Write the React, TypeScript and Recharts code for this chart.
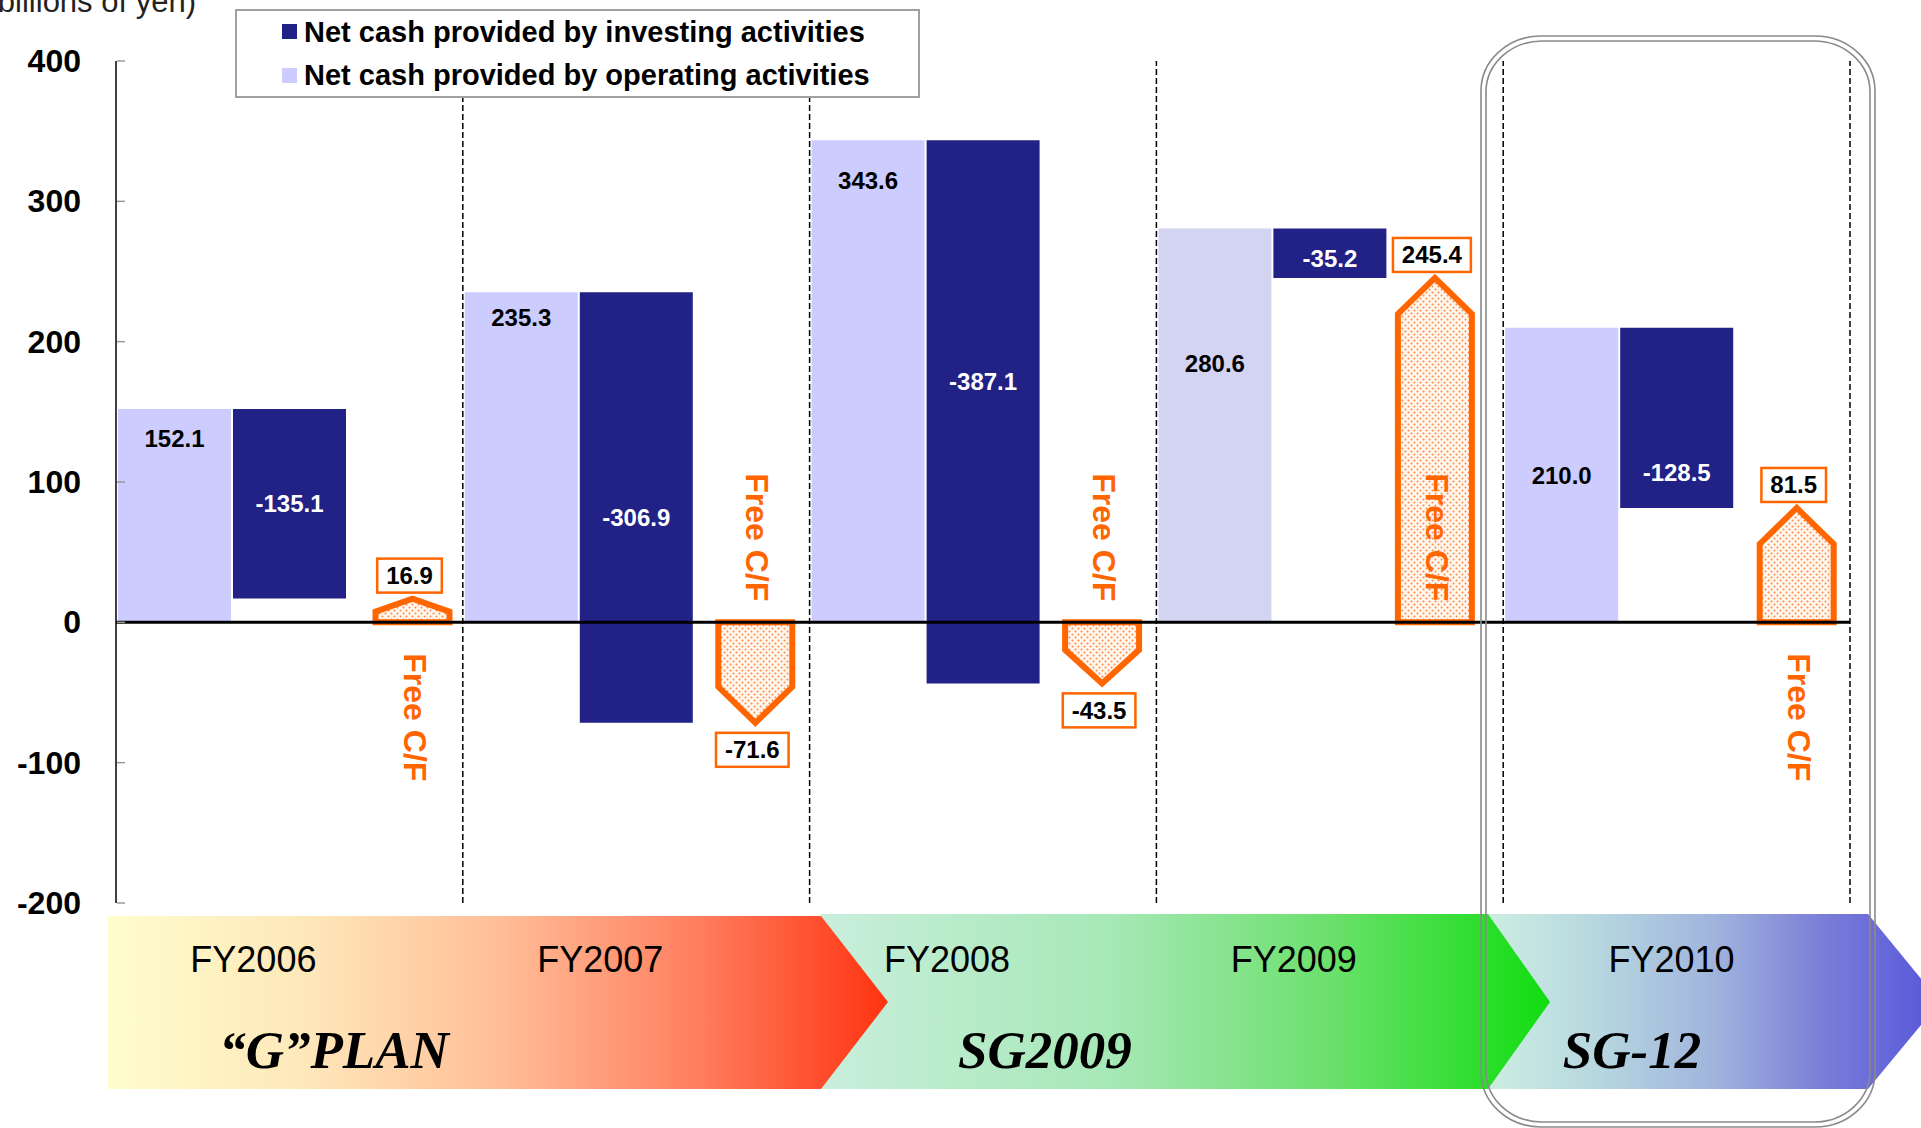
import React from 'react';
import { BarChart, Bar, XAxis, YAxis, Cell, LabelList, Legend, ReferenceLine } from 'recharts';

const years = ['FY2006', 'FY2007', 'FY2008', 'FY2009', 'FY2010'];
const operating = [152.1, 235.3, 343.6, 280.6, 210.0];
const investing = [-135.1, -306.9, -387.1, -35.2, -128.5];
const freeCashFlow = [16.9, -71.6, -43.5, 245.4, 81.5];
const yTicks = [-200, -100, 0, 100, 200, 300, 400];
const planNames = ['“G”PLAN', 'SG2009', 'SG-12'];

// operating bar rises from zero, investing bar floats down from the operating total
const rows = years.map((fy, i) => ({
  fy,
  op: [0, operating[i]],
  inv: [operating[i] + investing[i], operating[i]],
  fcf: [0, freeCashFlow[i]],
  opValue: operating[i],
  invValue: investing[i],
  fcfValue: freeCashFlow[i],
}));

const W = 1921;
const H = 1128;
const SANS = '"Liberation Sans", Arial, sans-serif';
const SERIF = '"Liberation Serif", "Times New Roman", serif';
const OP = '#CCCCFF';
const OP_ALT = '#D3D3F2';
const INV = '#212186';
const ORANGE = '#FF6600';

// label / arrow placement tweaks (px)
const opLabelDrop = [30, 25, 40, 135, 148];
const invLabelShift = [0, 10, -30, 5, 55];
const yearLabelShift = [-36, -36, -36, -36, -5];
const arrowShift = [8, 4, 4, -10, 5];

const rectOf = (p: any) => {
  const vb = p.viewBox && typeof p.viewBox.x === 'number' ? p.viewBox : p;
  const top = Math.min(vb.y, vb.y + vb.height);
  const bottom = Math.max(vb.y, vb.y + vb.height);
  return { x: vb.x, w: vb.width, top, bottom };
};

const OpLabel = (p: any) => {
  const r = rectOf(p);
  return (
    <text x={r.x + r.w / 2} y={r.top + opLabelDrop[p.index]} textAnchor="middle" dominantBaseline="central"
      fontFamily={SANS} fontWeight="bold" fontSize={24} fill="#000">
      {Number(p.value).toFixed(1)}
    </text>
  );
};

const InvLabel = (p: any) => {
  const r = rectOf(p);
  return (
    <text x={r.x + r.w / 2} y={(r.top + r.bottom) / 2 + invLabelShift[p.index]} textAnchor="middle"
      dominantBaseline="central" fontFamily={SANS} fontWeight="bold" fontSize={24} fill="#fff">
      {Number(p.value).toFixed(1)}
    </text>
  );
};

const arrowGeom = (x: number, w: number, top: number, bottom: number, v: number, i: number) => {
  const cx = x + w / 2 + (arrowShift[i] ?? 4);
  const base = v >= 0 ? bottom : top;
  const apex = v >= 0 ? top : bottom;
  return { cx, base, apex, len: Math.abs(apex - base) };
};

const FcfArrow = (p: any) => {
  const v = p.payload?.fcfValue ?? freeCashFlow[p.index];
  const r = rectOf(p);
  const { cx, base, apex, len } = arrowGeom(r.x, r.w, r.top, r.bottom, v, p.index);
  const half = 37;
  const dir = v >= 0 ? -1 : 1;
  const tip = Math.min(36, len * 0.55);
  const sh = apex - dir * tip;
  const d = `M${cx - half},${base} L${cx - half},${sh} L${cx},${apex} L${cx + half},${sh} L${cx + half},${base} Z`;
  return <path d={d} fill="url(#fcfDots)" stroke={ORANGE} strokeWidth={6} strokeLinejoin="miter" />;
};

const textWidth = (s: string) =>
  s.split('').reduce((a, c) => a + (c === '.' ? 6.7 : c === '-' ? 8 : 13.3), 0);

const FcfLabel = (p: any) => {
  const v = Number(p.value);
  const r = rectOf(p);
  const { cx, base, apex, len } = arrowGeom(r.x, r.w, r.top, r.bottom, v, p.index);
  const txt = v.toFixed(1);
  const bw = textWidth(txt) + 18;
  const bh = 34;
  const by = v >= 0 ? apex - 6 - bh : apex + 10;
  const capY = v < 0 || len > 200 ? base - 85 : base + 95;
  return (
    <g>
      <rect x={cx - 3 - bw / 2} y={by} width={bw} height={bh} fill="#fff" stroke={ORANGE} strokeWidth={2.5} />
      <text x={cx - 3} y={by + bh / 2} textAnchor="middle" dominantBaseline="central" fontFamily={SANS}
        fontWeight="bold" fontSize={24} fill="#000">{txt}</text>
      <text transform={`translate(${cx + 2},${capY}) rotate(90)`} textAnchor="middle" dominantBaseline="central"
        fontFamily={SANS} fontWeight="bold" fontSize={32} fill={ORANGE}>Free C/F</text>
    </g>
  );
};

const YTick = (p: any) => (
  <g>
    <text x={p.x} y={p.y} textAnchor="end" dominantBaseline="central" fontFamily={SANS} fontWeight="bold"
      fontSize={32} fill="#000">{p.payload.value}</text>
    <line x1={117} x2={125} y1={p.y} y2={p.y} stroke="#9A9A9A" strokeWidth={1.5} />
  </g>
);

const YearTick = (p: any) => (
  <text x={p.x + yearLabelShift[p.index]} y={972} textAnchor="middle" fontFamily={SANS} fontSize={36} fill="#000">
    {p.payload.value}
  </text>
);

// investing listed first, then operating
const legendOrder = ['inv', 'op'];

const LegendBox = (p: any) => {
  const entries = p.payload || [];
  const items = legendOrder
    .map((k) => entries.find((e: any) => e.dataKey === k))
    .filter(Boolean);
  return (
    <svg width={685} height={89}>
      <rect x={1} y={1} width={683} height={87} fill="#fff" stroke="#A0A0A0" strokeWidth={2} />
      {items.map((e: any, i: number) => (
        <g key={e.value}>
          <rect x={47} y={15 + i * 44} width={15} height={15} fill={e.color} />
          <text x={69} y={33 + i * 43} fontFamily={SANS} fontWeight="bold" fontSize={29} fill="#000">{e.value}</text>
        </g>
      ))}
    </svg>
  );
};

// period banner: three chevrons running under the fiscal years
const Banner = () => (
  <svg width={W} height={H} style={{ position: 'absolute', left: 0, top: 0 }}>
    <defs>
      <pattern id="fcfDots" width={6} height={6} patternUnits="userSpaceOnUse">
        <rect width={6} height={6} fill="#FFF6EE" />
        <circle cx={1.5} cy={1.5} r={1} fill="#FF8A45" />
        <circle cx={4.5} cy={4.5} r={1} fill="#FF8A45" />
      </pattern>
      <linearGradient id="gPlan" gradientUnits="userSpaceOnUse" x1={108} x2={888} y1={0} y2={0}>
        <stop offset="0" stopColor="#FFFDCC" />
        <stop offset="0.25" stopColor="#FEE8BA" />
        <stop offset="0.5" stopColor="#FFBE98" />
        <stop offset="0.75" stopColor="#FF8060" />
        <stop offset="1" stopColor="#FF3311" />
      </linearGradient>
      <linearGradient id="sg2009" gradientUnits="userSpaceOnUse" x1={821} x2={1550} y1={0} y2={0}>
        <stop offset="0" stopColor="#C9EEDC" />
        <stop offset="0.4" stopColor="#A6E8B6" />
        <stop offset="0.7" stopColor="#6BE06B" />
        <stop offset="1" stopColor="#10DD10" />
      </linearGradient>
      <linearGradient id="sg12" gradientUnits="userSpaceOnUse" x1={1488} x2={1940} y1={0} y2={0}>
        <stop offset="0" stopColor="#CCEEE0" />
        <stop offset="0.25" stopColor="#B6D6E0" />
        <stop offset="0.5" stopColor="#A0B4DC" />
        <stop offset="0.75" stopColor="#7A7CD8" />
        <stop offset="1" stopColor="#5555DA" />
      </linearGradient>
    </defs>
    <polygon points="1488,914 1868,914 1940,1002 1868,1089 1488,1089" fill="url(#sg12)" />
    <polygon points="821,914 1488,914 1550,1002 1488,1089 821,1089" fill="url(#sg2009)" />
    <polygon points="108,916 821,916 888,1002 821,1089 108,1089" fill="url(#gPlan)" />
    {[334, 1045, 1632].map((cx, i) => (
      <text key={planNames[i]} x={cx} y={1068} textAnchor="middle" fontFamily={SERIF} fontStyle="italic"
        fontWeight="bold" fontSize={53} fill="#000">{planNames[i]}</text>
    ))}
  </svg>
);

const Overlay = () => (
  <svg width={W} height={H} style={{ position: 'absolute', left: 0, top: 0, pointerEvents: 'none' }}>
    <text x={196} y={12} textAnchor="end" fontFamily={SANS} fontSize={31} fill="#222">(billions of yen)</text>
    <rect x={1481} y={36} width={394} height={1091} rx={60} ry={55} fill="none" stroke="#8A8A8A" strokeWidth={1.6} />
    <rect x={1486} y={41} width={384} height={1081} rx={56} ry={51} fill="none" stroke="#8A8A8A" strokeWidth={1.6} />
  </svg>
);

export default function App() {
  return (
    <div style={{ position: 'absolute', left: 0, top: 0, width: W, height: H, overflow: 'hidden', background: '#fff' }}>
      <Banner />
      <div style={{ position: 'absolute', left: 0, top: 0 }}>
        <BarChart width={W} height={H} data={rows} margin={{ top: 61, right: 71, bottom: 195, left: 0 }}
          barCategoryGap={2} barGap={2}>
          <XAxis dataKey="fy" axisLine={false} tickLine={false} height={30} interval={0} tick={(p: any) => <YearTick {...p} />} />
          <YAxis type="number" domain={[-200, 400]} ticks={yTicks} interval={0} width={116} tickSize={0}
            tickMargin={35} tickLine={false} axisLine={{ stroke: '#000', strokeWidth: 1.5 }}
            tick={(p: any) => <YTick {...p} />} />
          <Legend layout="vertical" align="center" verticalAlign="middle" content={(p: any) => <LegendBox {...p} />}
            wrapperStyle={{ left: 235, top: 9, width: 685, height: 89 }} />
          <Bar dataKey="op" name="Net cash provided by operating activities" fill={OP} isAnimationActive={false}>
            {rows.map((r, i) => <Cell key={r.fy} fill={i === 3 ? OP_ALT : OP} />)}
            <LabelList dataKey="opValue" content={(p: any) => <OpLabel {...p} />} />
          </Bar>
          <Bar dataKey="inv" name="Net cash provided by investing activities" fill={INV} isAnimationActive={false}>
            <LabelList dataKey="invValue" content={(p: any) => <InvLabel {...p} />} />
          </Bar>
          <Bar dataKey="fcf" name="Free C/F" legendType="none" fill={ORANGE} isAnimationActive={false}
            shape={(p: any) => <FcfArrow {...p} />}>
            <LabelList dataKey="fcfValue" content={(p: any) => <FcfLabel {...p} />} />
          </Bar>
          {years.slice(1).map((fy) => (
            <ReferenceLine key={fy} x={fy} position="start" stroke="#000" strokeWidth={1.5} strokeDasharray="6 3" />
          ))}
          <ReferenceLine x={years[years.length - 1]} position="end" stroke="#000" strokeWidth={1.5} strokeDasharray="6 3" />
          <ReferenceLine y={0} stroke="#000" strokeWidth={3} />
        </BarChart>
      </div>
      <Overlay />
    </div>
  );
}
